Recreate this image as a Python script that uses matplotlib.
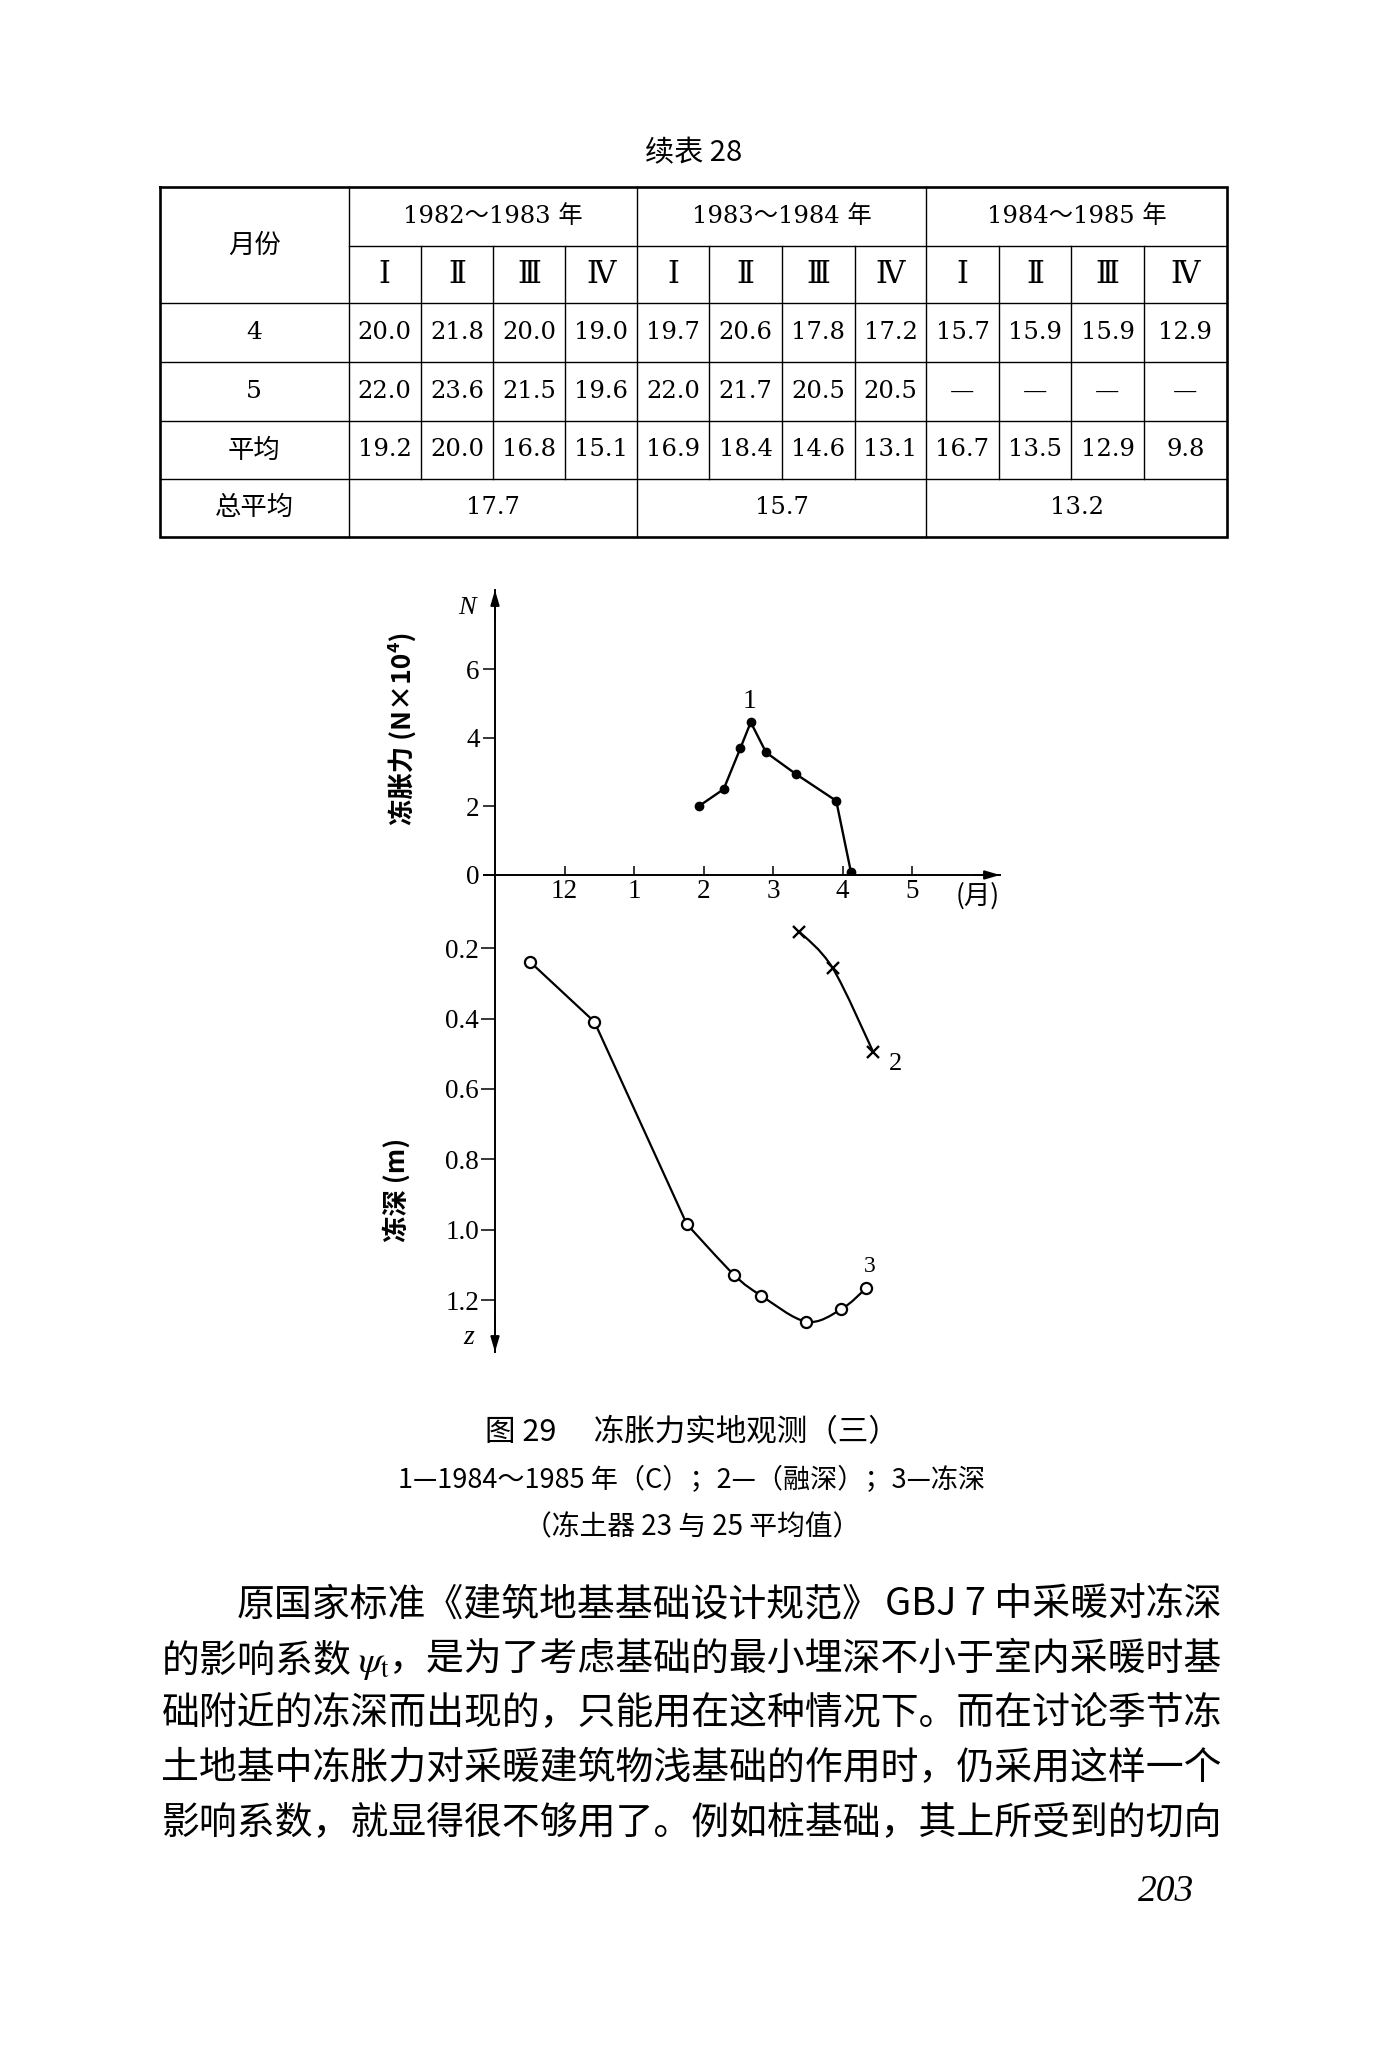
import numpy as np
import matplotlib
matplotlib.use("Agg")
import matplotlib.pyplot as plt
from matplotlib.path import Path
from matplotlib.patches import PathPatch

plt.rcParams['font.family'] = ['Noto Sans CJK SC', 'DejaVu Sans']
plt.rcParams['mathtext.fontset'] = 'stix'

# ---------------- data ----------------
table_title = "续表 28"
month_header = "月份"
year_groups = ["1982～1983 年", "1983～1984 年", "1984～1985 年"]
quarters = ["Ⅰ", "Ⅱ", "Ⅲ", "Ⅳ"]
row_labels = ["4", "5", "平均"]
overall_label = "总平均"
row_apr = ["20.0", "21.8", "20.0", "19.0", "19.7", "20.6", "17.8", "17.2", "15.7", "15.9", "15.9", "12.9"]
row_may = ["22.0", "23.6", "21.5", "19.6", "22.0", "21.7", "20.5", "20.5", "—", "—", "—", "—"]
row_avg = ["19.2", "20.0", "16.8", "15.1", "16.9", "18.4", "14.6", "13.1", "16.7", "13.5", "12.9", "9.8"]
overall_avg = ["17.7", "15.7", "13.2"]

# months counted continuously: 12 = Dec, 13 = Jan, 14 = Feb ...
month_ticks = [12, 13, 14, 15, 16, 17]
month_labels = ["12", "1", "2", "3", "4", "5"]
force_ticks = [0, 2, 4, 6]
depth_ticks = [0.2, 0.4, 0.6, 0.8, 1.0, 1.2]

force_month = [13.93, 14.29, 14.53, 14.68, 14.90, 15.33, 15.91, 16.12]
force_N = [2.0, 2.5, 3.69, 4.45, 3.57, 2.94, 2.16, 0.1]
thaw_month = [15.38, 15.86, 16.44]
thaw_depth = [0.153, 0.257, 0.494]
frost_month = [11.50, 12.43, 13.76, 14.44, 14.83, 15.48, 15.98, 16.34]
frost_depth = [0.238, 0.409, 0.984, 1.128, 1.187, 1.261, 1.226, 1.166]

caption_lines = ["图 29　 冻胀力实地观测（三）",
                 "1—1984～1985 年（C）；2—（融深）；3—冻深",
                 "（冻土器 23 与 25 平均值）"]
body_parts = [("原国家标准《建筑地基基础设计规范》", "GBJ 7 中采暖对冻深"),
              (r"的影响系数 $\psi_{\rm t}$", "，是为了考虑基础的最小埋深不小于室内采暖时基"),
              ("础附近的冻深而出现的，只能用在这种情况下。而在讨论季节冻", None),
              ("土地基中冻胀力对采暖建筑物浅基础的作用时，仍采用这样一个", None),
              ("影响系数，就显得很不够用了。例如桩基础，其上所受到的切向", None)]
page_number = "203"

# ---------------- page ----------------
W, H = 1374, 2048
fig = plt.figure(figsize=(W / 100, H / 100), dpi=100)
fig.patch.set_facecolor('white')
page = fig.add_axes([0, 0, 1, 1])
page.set_xlim(0, W)
page.set_ylim(H, 0)
page.axis('off')

CJK = ['Noto Sans CJK SC', 'DejaVu Sans']
NUM = ['DejaVu Serif', 'Noto Sans CJK SC']
SERIF = ['Liberation Serif', 'DejaVu Serif']

# ---------------- table ----------------
col_x = [160, 348.6, 420.9, 493.2, 565.2, 637.1, 709.4, 782.1, 854.6, 926.4, 998.6, 1071.4, 1143.6, 1226.8]
row_y = [186.7, 245.7, 303.3, 362.3, 421.0, 479.0, 536.7]
thin, thick = 1.0, 1.9

page.text((col_x[0] + col_x[-1]) / 2, 153, table_title, family=CJK, fontsize=21,
          ha='center', va='center')
page.plot([col_x[0], col_x[-1], col_x[-1], col_x[0], col_x[0]],
          [row_y[0], row_y[0], row_y[-1], row_y[-1], row_y[0]], color='k', lw=thick,
          solid_joinstyle='miter')
for i in [1, 5, 9]:
    page.plot([col_x[i], col_x[i]], [row_y[0], row_y[-1]], color='k', lw=thin)
for i in [2, 3, 4, 6, 7, 8, 10, 11, 12]:
    page.plot([col_x[i], col_x[i]], [row_y[1], row_y[5]], color='k', lw=thin)
page.plot([col_x[1], col_x[-1]], [row_y[1], row_y[1]], color='k', lw=thin)
for j in [2, 3, 4, 5]:
    page.plot([col_x[0], col_x[-1]], [row_y[j], row_y[j]], color='k', lw=thin)

def cx(i):
    return (col_x[i] + col_x[i + 1]) / 2

def cy(j):
    return (row_y[j] + row_y[j + 1]) / 2

page.text(cx(0), (row_y[0] + row_y[2]) / 2, month_header, family=CJK, fontsize=19,
          ha='center', va='center')
for g, lab in enumerate(year_groups):
    page.text((col_x[1 + 4 * g] + col_x[5 + 4 * g]) / 2, cy(0), lab, family=NUM,
              fontsize=17.5, ha='center', va='center')
    page.text((col_x[1 + 4 * g] + col_x[5 + 4 * g]) / 2, cy(5), overall_avg[g], family=NUM,
              fontsize=17.5, ha='center', va='center')
    for q, qs in enumerate(quarters):
        page.text(cx(1 + 4 * g + q), cy(1), qs, family=['DejaVu Serif', 'Noto Sans CJK SC'],
                  fontsize=22, ha='center', va='center')
for j, (lab, vals) in enumerate(zip(row_labels, [row_apr, row_may, row_avg])):
    isnum = lab.isdigit()
    page.text(cx(0), cy(2 + j), lab, family=NUM if isnum else CJK, fontsize=18 if isnum else 19,
              ha='center', va='center')
    for k, v in enumerate(vals):
        page.text(cx(1 + k), cy(2 + j), v, family=NUM, fontsize=17.5,
                  ha='center', va='center')
page.text(cx(0), cy(5), overall_label, family=CJK, fontsize=19, ha='center', va='center')

# ---------------- chart ----------------
px_left, px_right = 495, 1000
px_axis = 875
px_top, px_bottom = 590, 1352
month_px = 69.5
N_px = 34.33
depth_px = 352.0
depth0_px = 877.8
x_min = 11
x_max = x_min + (px_right - px_left) / month_px

ax_top = fig.add_axes([px_left / W, 1 - px_axis / H, (px_right - px_left) / W, (px_axis - px_top) / H])
ax_bot = fig.add_axes([px_left / W, 1 - px_bottom / H, (px_right - px_left) / W, (px_bottom - px_axis) / H])
for ax in (ax_top, ax_bot):
    ax.patch.set_visible(False)
    ax.set_xlim(x_min, x_max)
    for s in ['top', 'right']:
        ax.spines[s].set_visible(False)
    for s in ['left', 'bottom']:
        ax.spines[s].set_linewidth(1.4)
ax_top.set_ylim(0, (px_axis - px_top) / N_px)
ax_bot.set_ylim((px_bottom - depth0_px) / depth_px, (px_axis - depth0_px) / depth_px)
ax_bot.spines['bottom'].set_visible(False)
ax_top.spines['bottom'].set_bounds(x_min - 11 / month_px, x_max)

ax_top.set_xticks(month_ticks)
ax_top.set_xticklabels(month_labels)
ax_top.set_yticks(force_ticks)
ax_top.set_yticklabels([str(v) for v in force_ticks])
ax_top.tick_params(axis='x', direction='in', length=6.3, width=1.1, pad=3.0, labelsize=19.5)
ax_top.tick_params(axis='y', direction='out', length=9, width=1.1, pad=2, labelsize=19.5)
ax_bot.set_xticks([])
ax_bot.set_yticks(depth_ticks)
ax_bot.set_yticklabels([f"{v:.1f}" for v in depth_ticks])
ax_bot.tick_params(axis='y', direction='out', length=10, width=1.1, pad=1.5, labelsize=19.5)
for ax in (ax_top, ax_bot):
    for lab in ax.get_xticklabels() + ax.get_yticklabels():
        lab.set_family(SERIF)

arrow = dict(arrowstyle='-|>,head_length=0.75,head_width=0.22', color='k', lw=1.4,
             mutation_scale=12, shrinkA=0, shrinkB=0)
ax_top.annotate('', xy=(0, 1.0), xytext=(0, 0.9), xycoords='axes fraction', arrowprops=arrow)
ax_top.annotate('', xy=(1.0, 0), xytext=(0.95, 0), xycoords='axes fraction', arrowprops=arrow)
ax_bot.annotate('', xy=(0, 0.0), xytext=(0, 0.08), xycoords='axes fraction', arrowprops=arrow)

# series 1: frost heave force
ax_top.plot(force_month, force_N, color='k', lw=1.7, marker='o', ms=6, mfc='k', mec='k')

def smooth_path(xs, ys, straight_until=0):
    pts = np.column_stack([xs, ys]).astype(float)
    n = len(pts)
    verts = [pts[0]]
    codes = [Path.MOVETO]
    for i in range(n - 1):
        p1, p2 = pts[i], pts[i + 1]
        if i < straight_until:
            verts.append(p2)
            codes.append(Path.LINETO)
            continue
        p0 = pts[i - 1] if i > straight_until else pts[i]
        p3 = pts[i + 2] if i + 2 < n else pts[i + 1]
        verts += [p1 + (p2 - p0) / 6, p2 - (p3 - p1) / 6, p2]
        codes += [Path.CURVE4] * 3
    return Path(verts, codes)

# series 2: thaw depth
ax_bot.add_patch(PathPatch(smooth_path(thaw_month, thaw_depth), fc='none', ec='k', lw=1.6))
ax_bot.plot(thaw_month, thaw_depth, ls='none', marker='x', ms=8, mew=1.7, color='k')
# series 3: frost depth
ax_bot.add_patch(PathPatch(smooth_path(frost_month, frost_depth, straight_until=2),
                           fc='none', ec='k', lw=1.6))
ax_bot.plot(frost_month, frost_depth, ls='none', marker='o', ms=8, mfc='white', mec='k', mew=1.6)

# chart text
page.text(466.8, 608, "N", family=SERIF, style='italic', fontsize=19, ha='center', va='center')
page.text(469, 1338, "z", family=SERIF, style='italic', fontsize=20, ha='center', va='center')
page.text(978, 896, "(月)", family=CJK, fontsize=19, ha='center', va='center')
page.text(750, 701, "1", family=SERIF, fontsize=20, ha='center', va='center')
page.text(896, 1064, "2", family=SERIF, fontsize=19, ha='center', va='center')
page.text(870, 1266, "3", family=SERIF, fontsize=17, ha='center', va='center')
page.text(403, 728, "冻胀力 (N×10⁴)", family=CJK, fontsize=19, weight='bold',
          rotation=90, ha='center', va='center')
page.text(397, 1190, "冻深 (m)", family=CJK, fontsize=19, weight='bold',
          rotation=90, ha='center', va='center')

# ---------------- caption ----------------
cap_y = [1433, 1481, 1527]
cap_fs = [22, 19.5, 20]
for t, y, fs in zip(caption_lines, cap_y, cap_fs):
    page.text(692, y, t, family=CJK, fontsize=fs, ha='center', va='center')

# ---------------- body text ----------------
body_left, body_indent, body_right = 161.4, 236.4, 1222.0
body_y = [1605, 1659.5, 1714, 1769, 1824]
body_fs = (body_right - body_left) / 28 * 72 / 100
for k, ((left, right), y) in enumerate(zip(body_parts, body_y)):
    x0 = body_indent if k == 0 else body_left
    page.text(x0, y, left, family=CJK, fontsize=body_fs, ha='left', va='center')
    if right:
        page.text(body_right, y, right, family=CJK, fontsize=body_fs, ha='right', va='center')

page.text(1166, 1892, page_number, family=SERIF, style='italic', fontsize=27,
          ha='center', va='center')

fig.savefig("out.png", dpi=100, facecolor='white')
